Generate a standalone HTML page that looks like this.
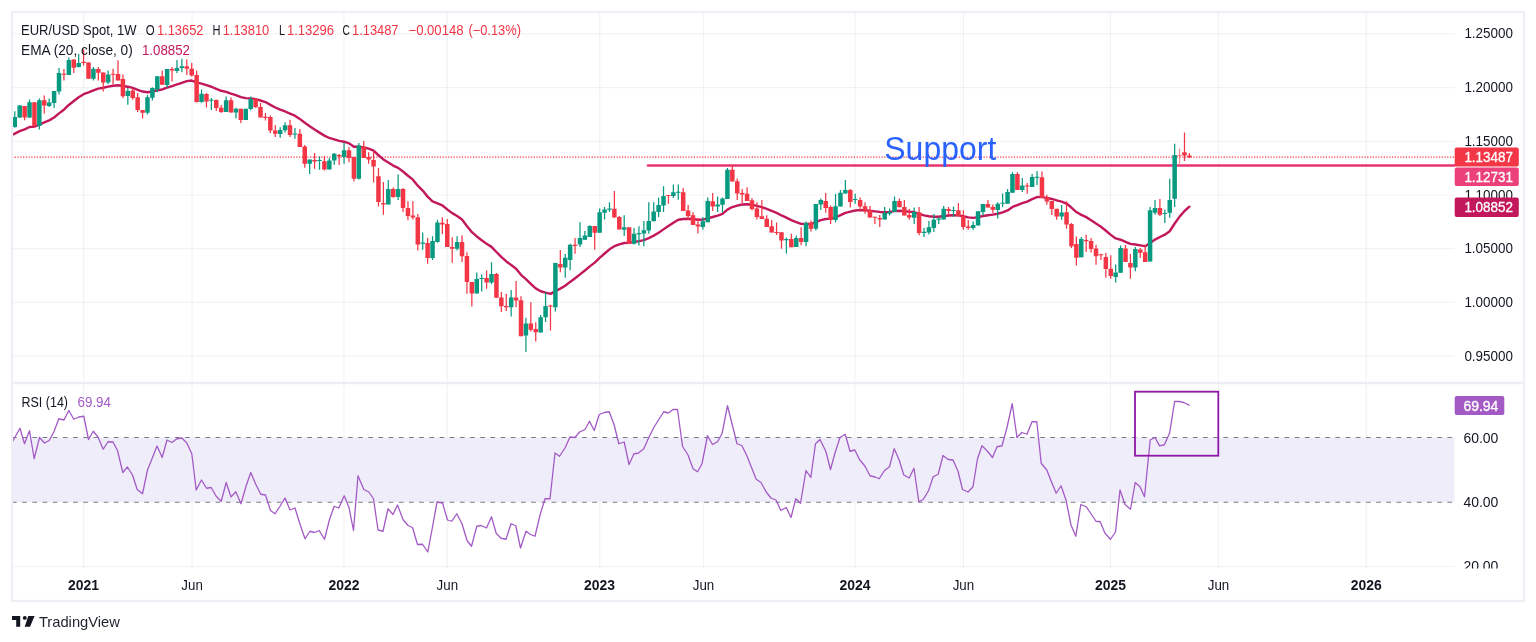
<!DOCTYPE html>
<html lang="en"><head><meta charset="utf-8"><title>EUR/USD Spot, 1W</title>
<style>html,body{margin:0;padding:0;background:#fff}body{width:1536px;height:642px;overflow:hidden}svg{display:block}</style>
</head><body>
<svg width="1536" height="642" viewBox="0 0 1536 642" font-family="'Liberation Sans', sans-serif" font-size="14" fill="#131722">
<rect width="1536" height="642" fill="#fff"/>
<defs>
<clipPath id="cm"><rect x="12.5" y="12.5" width="1442.0" height="370.2"/></clipPath>
<clipPath id="cr"><rect x="12.5" y="383.7" width="1442.0" height="182.8"/></clipPath>
<clipPath id="cax"><rect x="1454.5" y="383.7" width="69.5" height="184.8"/></clipPath>
</defs>
<g stroke="rgba(40,45,50,0.06)" stroke-width="1.2" shape-rendering="auto">
<line x1="83.6" y1="12" x2="83.6" y2="568.0"/>
<line x1="192.1" y1="12" x2="192.1" y2="568.0"/>
<line x1="344" y1="12" x2="344" y2="568.0"/>
<line x1="447.3" y1="12" x2="447.3" y2="568.0"/>
<line x1="599.6" y1="12" x2="599.6" y2="568.0"/>
<line x1="703.5" y1="12" x2="703.5" y2="568.0"/>
<line x1="855" y1="12" x2="855" y2="568.0"/>
<line x1="963.4" y1="12" x2="963.4" y2="568.0"/>
<line x1="1110.5" y1="12" x2="1110.5" y2="568.0"/>
<line x1="1218.5" y1="12" x2="1218.5" y2="568.0"/>
<line x1="1366.3" y1="12" x2="1366.3" y2="568.0"/>
<line x1="12" y1="33.90" x2="1454.5" y2="33.90"/>
<line x1="12" y1="87.60" x2="1454.5" y2="87.60"/>
<line x1="12" y1="141.30" x2="1454.5" y2="141.30"/>
<line x1="12" y1="195.00" x2="1454.5" y2="195.00"/>
<line x1="12" y1="248.70" x2="1454.5" y2="248.70"/>
<line x1="12" y1="302.40" x2="1454.5" y2="302.40"/>
<line x1="12" y1="356.10" x2="1454.5" y2="356.10"/>
<line x1="12" y1="566.5" x2="1454.5" y2="566.5"/>
</g>
<rect x="12" y="437.50" width="1442.5" height="64.75" fill="#f0edfa"/>
<g stroke="#787b86" stroke-width="1.1" stroke-dasharray="4.6 5.58">
<line x1="12.06" y1="437.50" x2="1454.5" y2="437.50"/>
<line x1="12.06" y1="502.25" x2="1454.5" y2="502.25"/>
</g>
<line x1="12" y1="157.1" x2="1454.5" y2="157.1" stroke="#f23645" stroke-width="1.3" stroke-dasharray="1.25 1.51"/>
<line x1="648" y1="165.5" x2="1454.5" y2="165.5" stroke="#e8336f" stroke-width="2.7" stroke-linecap="round"/>
<text x="884.3" y="160" font-size="33.5" fill="#2962ff" textLength="112" lengthAdjust="spacingAndGlyphs">Support</text>
<g clip-path="url(#cm)">
<path d="M9.9 136.05L14.8 133.60L19.7 131.14L24.6 129.41L29.5 127.02L34.4 126.60L39.4 124.61L44.3 122.40L49.2 120.36L54.1 117.52L59.0 113.35L63.9 109.73L68.8 104.95L73.8 101.03L78.7 97.20L83.6 94.24L88.5 92.47L93.4 90.32L98.3 88.56L103.3 87.76L108.2 86.62L113.1 85.72L118.0 85.22L122.9 85.98L127.8 86.70L132.7 87.94L137.7 89.81L142.6 91.53L147.5 92.26L152.4 91.56L157.3 90.28L162.2 89.47L167.1 87.65L172.1 86.04L177.0 84.42L181.9 82.80L186.8 81.12L191.7 80.51L196.6 82.36L201.5 83.65L206.5 85.19L211.4 86.76L216.3 88.84L221.2 90.77L226.1 91.82L231.0 93.59L235.9 95.12L240.9 97.19L245.8 98.15L250.7 98.38L255.6 99.11L260.5 100.51L265.4 102.06L270.4 104.86L275.3 107.47L280.2 109.67L285.1 111.49L290.0 113.58L294.9 115.68L299.8 118.91L304.8 122.81L309.7 126.30L314.6 129.60L319.5 132.62L324.4 135.63L329.3 137.97L334.2 139.46L339.2 140.89L344.1 141.71L349.0 143.28L353.9 146.70L358.8 146.78L363.7 147.52L368.6 148.67L373.6 150.73L378.5 155.25L383.4 159.41L388.3 162.42L393.2 165.54L398.1 167.85L403.0 171.53L408.0 175.73L412.9 179.65L417.8 185.68L422.7 190.57L427.6 196.62L432.5 201.44L437.5 203.45L442.4 205.47L447.3 209.42L452.2 213.12L457.1 215.96L462.0 219.44L466.9 225.91L471.9 232.17L476.8 236.45L481.7 240.24L486.6 243.85L491.5 246.89L496.4 251.98L501.3 256.90L506.3 261.42L511.2 264.94L516.1 268.73L521.0 274.80L525.9 279.14L530.8 283.84L535.7 288.41L540.7 291.23L545.6 292.69L550.5 293.84L555.4 291.10L560.3 288.61L565.2 285.74L570.1 281.92L575.1 278.23L580.0 274.32L584.9 270.49L589.8 266.37L594.7 262.60L599.6 257.97L604.6 253.51L609.5 249.30L614.4 246.23L619.3 244.39L624.2 243.02L629.1 242.91L634.0 242.02L639.0 241.09L643.9 240.06L648.8 238.14L653.7 235.63L658.6 232.72L663.5 229.38L668.4 226.12L673.4 222.75L678.3 219.73L683.2 218.97L688.1 218.75L693.0 219.14L697.9 219.71L702.8 219.63L707.8 218.29L712.7 216.98L717.6 215.58L722.5 213.93L727.4 209.65L732.3 207.04L737.2 205.59L742.2 204.50L747.1 204.19L752.0 204.71L756.9 205.83L761.8 207.14L766.7 208.84L771.7 210.82L776.6 212.93L781.5 215.45L786.4 217.59L791.3 220.07L796.2 222.11L801.1 223.89L806.1 223.96L811.0 223.78L815.9 222.04L820.8 220.14L825.7 219.03L830.6 218.64L835.5 217.48L840.5 215.14L845.4 212.89L850.3 211.61L855.2 210.47L860.1 210.17L865.0 210.22L869.9 210.76L874.9 211.36L879.8 211.93L884.7 212.08L889.6 211.93L894.5 211.18L899.4 210.71L904.3 211.15L909.3 211.74L914.2 212.06L919.1 213.80L924.0 215.34L928.9 216.30L933.8 216.69L938.8 216.80L943.7 215.99L948.6 215.53L953.5 215.18L958.4 215.34L963.3 216.29L968.2 217.32L973.2 217.83L978.1 217.20L983.0 216.00L987.9 215.25L992.8 214.65L997.7 213.76L1002.6 212.46L1007.6 210.44L1012.5 206.96L1017.4 205.11L1022.3 203.23L1027.2 201.59L1032.1 199.18L1037.0 197.06L1042.0 197.09L1046.9 197.82L1051.8 198.96L1056.7 200.41L1061.6 201.66L1066.5 203.51L1071.4 207.55L1076.4 212.05L1081.3 214.87L1086.2 217.13L1091.1 220.25L1096.0 223.58L1100.9 226.70L1105.9 230.72L1110.8 234.88L1115.7 238.45L1120.6 239.72L1125.5 241.80L1130.4 243.86L1135.3 244.47L1140.3 245.31L1145.2 246.15L1150.1 243.00L1155.0 239.59L1159.9 237.01L1164.8 234.70L1169.7 231.27L1174.7 223.51L1179.6 216.59L1184.5 211.01L1189.4 206.70" stroke="#c2185b" stroke-width="2.4" fill="none" stroke-linejoin="round" stroke-linecap="round"/>
<path d="M14.79 111.25V127.75M19.70 105.00V118.12M29.53 99.38V118.12M39.36 98.50V129.38M49.19 98.50V106.88M54.10 91.00V108.12M59.02 68.12V94.38M68.85 57.50V75.00M78.68 54.00V67.50M93.42 66.88V80.62M108.17 70.62V84.00M127.82 88.12V104.75M147.48 95.00V114.62M152.40 87.25V100.62M157.31 76.25V92.25M167.14 69.00V87.50M176.97 60.00V73.12M181.89 58.75V72.25M201.55 89.38V102.75M211.37 98.12V110.00M226.12 96.50V111.88M235.95 107.75V118.50M245.78 108.75V120.00M250.69 96.50V110.25M280.18 127.25V137.75M285.10 122.25V132.50M294.92 128.12V138.75M309.67 159.62V174.00M319.50 156.50V169.75M329.33 158.12V169.38M334.24 153.12V165.00M344.07 142.75V163.75M358.82 143.12V179.38M388.30 180.00V204.38M398.13 174.38V200.00M422.71 232.50V249.75M432.54 236.25V260.00M437.45 219.75V242.75M457.11 236.25V250.62M476.77 272.50V293.50M481.68 274.38V291.50M491.51 262.25V284.00M511.17 290.00V316.50M525.92 317.75V351.88M540.66 315.00V332.50M545.57 292.25V321.88M555.40 262.80V311.50M565.23 254.00V277.75M570.15 243.75V270.25M579.98 222.25V246.88M584.89 231.00V239.75M589.81 225.25V236.88M599.64 208.50V232.75M604.55 206.88V219.38M609.47 202.25V211.88M624.21 215.25V236.00M634.04 228.12V244.38M638.95 226.25V245.62M643.87 221.00V246.25M648.78 202.25V233.75M653.70 202.25V221.25M658.61 197.50V216.88M663.53 186.25V211.88M673.36 184.38V198.12M678.27 184.38V199.75M702.84 216.88V229.38M707.76 197.50V222.25M717.59 196.50V211.88M722.50 197.50V212.50M727.42 168.12V199.00M786.39 237.50V253.50M796.22 235.62V246.88M806.05 221.50V246.25M815.88 204.00V230.62M820.80 198.50V210.00M835.54 193.75V222.25M840.46 190.00V206.50M845.37 180.00V193.50M855.20 193.75V203.75M884.69 206.88V219.38M889.60 208.50V215.62M894.52 196.50V211.88M914.18 207.50V224.00M924.01 228.12V236.88M928.92 221.00V234.38M933.84 214.00V231.88M938.75 216.88V224.00M943.67 206.00V219.38M953.49 206.50V216.88M973.15 221.50V229.75M978.07 211.25V225.62M982.98 204.00V215.62M997.73 202.25V218.50M1002.64 193.50V206.88M1007.56 189.00V203.75M1012.47 172.25V192.75M1022.30 178.12V191.88M1032.13 174.00V186.88M1037.04 171.25V185.00M1061.62 205.00V219.75M1081.28 236.88V257.25M1115.68 264.38V282.50M1120.59 245.62V272.75M1135.34 246.88V271.25M1150.08 206.90V261.50M1155.00 200.00V214.75M1164.83 209.38V223.12M1169.74 178.75V217.75M1174.66 143.75V206.90" stroke="#089981" stroke-width="1.25" fill="none"/>
<path d="M24.62 106.00V120.25M34.45 102.25V126.00M44.27 95.62V113.50M63.93 69.00V80.62M73.76 59.38V73.12M83.59 49.38V65.62M88.51 62.25V78.75M98.34 66.88V80.62M103.25 72.50V91.50M113.08 68.75V84.38M118.00 60.25V80.62M122.91 74.38V98.12M132.74 88.75V99.75M137.65 93.12V111.88M142.57 110.00V118.50M162.23 70.62V84.75M172.06 66.88V81.50M186.80 59.38V75.00M191.72 63.12V76.50M196.63 70.62V102.50M206.46 93.12V107.50M216.29 99.38V111.00M221.20 105.00V112.88M231.03 97.50V112.50M240.86 108.75V123.12M255.61 98.50V107.75M260.52 103.12V117.50M265.44 113.12V120.62M270.35 115.62V133.12M275.27 125.00V136.88M290.01 119.75V136.88M299.84 129.00V146.88M304.75 145.00V167.75M314.58 153.12V168.75M324.41 156.00V170.62M339.16 154.00V165.00M348.99 147.25V162.25M353.90 156.88V181.50M363.73 141.00V158.12M368.65 152.25V163.75M373.56 151.25V182.50M378.47 168.12V206.50M383.39 181.88V214.75M393.22 187.50V197.75M403.05 188.12V211.88M407.96 201.25V220.25M412.88 201.25V219.38M417.79 214.00V250.62M427.62 238.12V263.75M442.37 217.25V234.00M447.28 219.00V246.88M452.20 237.25V262.75M462.02 235.25V261.88M466.94 252.25V293.75M471.85 281.88V306.50M486.60 270.62V288.75M496.43 273.12V297.75M501.34 291.88V311.88M506.26 293.75V311.00M516.09 281.00V307.25M521.00 296.25V336.25M530.83 302.25V331.50M535.74 322.25V341.50M550.49 304.75V330.62M560.32 250.00V272.25M575.06 238.12V253.75M594.72 226.00V249.75M614.38 191.00V217.50M619.29 216.00V229.38M629.12 227.25V243.50M668.44 194.94V203.75M683.19 188.12V211.00M688.10 205.00V220.00M693.02 212.25V225.00M697.93 218.12V233.50M712.67 193.12V211.00M732.33 165.00V181.50M737.25 178.50V200.00M742.16 189.00V203.12M747.08 187.25V201.00M751.99 198.12V210.62M756.91 202.25V219.38M761.82 200.00V219.00M766.74 215.25V226.88M771.65 220.00V232.50M776.57 222.50V235.00M781.48 232.25V248.75M791.31 233.75V247.25M801.14 227.25V245.25M810.97 220.62V231.50M825.71 193.12V212.75M830.63 205.62V224.00M850.29 189.00V207.50M860.12 197.50V210.62M865.03 202.25V213.75M869.94 206.00V217.50M874.86 216.75V224.00M879.77 215.00V226.88M899.43 198.50V207.25M904.35 200.00V215.62M909.26 208.75V219.75M919.09 206.88V235.25M948.58 206.88V215.00M958.41 203.12V216.25M963.32 210.25V229.75M968.24 220.00V229.75M987.90 200.00V207.50M992.81 204.38V213.12M1017.39 172.25V190.00M1027.21 183.12V193.75M1041.96 171.50V198.12M1046.87 194.75V204.75M1051.79 201.00V215.00M1056.70 208.75V219.75M1066.53 201.25V228.75M1071.45 223.12V248.12M1076.36 236.50V265.62M1086.19 234.75V251.88M1091.11 238.12V252.50M1096.02 244.75V264.75M1100.94 253.75V260.00M1105.85 253.12V277.75M1110.76 255.25V278.75M1125.51 245.00V261.88M1130.42 254.00V278.75M1140.25 248.12V258.12M1145.17 245.25V261.88M1159.91 199.00V216.00M1184.49 132.50V161.00M1189.40 153.10V158.10" stroke="#f23645" stroke-width="1.25" fill="none"/>
<path d="M1179.57 148.50V164.00" stroke="#f23645" stroke-opacity="0.55" stroke-width="1.25" fill="none"/>
<path d="M12.54 117.12h4.5V126.88h-4.5zM17.45 105.62h4.5V117.50h-4.5zM27.28 102.25h4.5V117.50h-4.5zM37.11 100.25h4.5V126.00h-4.5zM46.94 102.50h4.5V105.88h-4.5zM51.85 91.00h4.5V102.88h-4.5zM56.77 73.12h4.5V91.62h-4.5zM66.60 60.00h4.5V75.00h-4.5zM76.43 63.12h4.5V66.88h-4.5zM91.17 68.75h4.5V78.75h-4.5zM105.92 74.38h4.5V82.50h-4.5zM125.57 91.00h4.5V95.88h-4.5zM145.23 97.25h4.5V112.75h-4.5zM150.15 88.12h4.5V97.75h-4.5zM155.06 76.25h4.5V89.38h-4.5zM164.89 69.00h4.5V85.00h-4.5zM174.72 68.12h4.5V70.88h-4.5zM179.64 66.25h4.5V68.12h-4.5zM199.30 93.75h4.5V101.88h-4.5zM209.12 99.63h4.5V100.75h-4.5zM223.87 100.25h4.5V111.88h-4.5zM233.70 108.75h4.5V112.50h-4.5zM243.53 108.75h4.5V120.00h-4.5zM248.44 99.00h4.5V109.00h-4.5zM277.93 130.00h4.5V134.00h-4.5zM282.85 125.25h4.5V130.25h-4.5zM292.67 133.50h4.5V134.62h-4.5zM307.42 159.62h4.5V163.75h-4.5zM317.25 159.88h4.5V161.00h-4.5zM327.08 160.62h4.5V169.38h-4.5zM331.99 153.75h4.5V160.62h-4.5zM341.82 150.25h4.5V156.88h-4.5zM356.57 145.62h4.5V178.75h-4.5zM386.05 189.00h4.5V204.38h-4.5zM395.88 189.00h4.5V196.88h-4.5zM420.46 242.50h4.5V243.75h-4.5zM430.29 241.00h4.5V258.12h-4.5zM435.20 222.50h4.5V241.88h-4.5zM454.86 241.88h4.5V248.75h-4.5zM474.52 279.00h4.5V293.50h-4.5zM479.43 277.88h4.5V279.00h-4.5zM489.26 274.00h4.5V282.50h-4.5zM508.92 297.50h4.5V307.25h-4.5zM523.67 323.50h4.5V335.62h-4.5zM538.41 317.25h4.5V332.50h-4.5zM543.32 306.00h4.5V317.25h-4.5zM553.15 263.10h4.5V307.25h-4.5zM562.98 257.75h4.5V267.50h-4.5zM567.90 244.75h4.5V260.00h-4.5zM577.73 238.12h4.5V244.38h-4.5zM582.64 235.62h4.5V239.75h-4.5zM587.56 226.00h4.5V236.88h-4.5zM597.39 212.25h4.5V232.75h-4.5zM602.30 209.38h4.5V212.75h-4.5zM607.22 208.50h4.5V209.75h-4.5zM621.96 227.25h4.5V229.75h-4.5zM631.79 233.75h4.5V243.75h-4.5zM636.70 233.06h4.5V234.19h-4.5zM641.62 230.25h4.5V233.50h-4.5zM646.53 221.00h4.5V230.62h-4.5zM651.45 211.50h4.5V221.25h-4.5zM656.36 205.00h4.5V211.88h-4.5zM661.28 196.00h4.5V205.62h-4.5zM671.11 192.25h4.5V196.00h-4.5zM676.02 191.75h4.5V192.87h-4.5zM700.59 221.25h4.5V226.88h-4.5zM705.51 201.00h4.5V222.25h-4.5zM715.34 204.38h4.5V206.50h-4.5zM720.25 198.50h4.5V204.75h-4.5zM725.17 169.75h4.5V199.00h-4.5zM784.14 239.00h4.5V240.25h-4.5zM793.97 238.12h4.5V246.88h-4.5zM803.80 223.12h4.5V241.88h-4.5zM813.63 204.00h4.5V228.75h-4.5zM818.55 200.00h4.5V204.38h-4.5zM833.29 206.25h4.5V220.00h-4.5zM838.21 192.75h4.5V206.50h-4.5zM843.12 190.00h4.5V193.50h-4.5zM852.95 198.94h4.5V200.06h-4.5zM882.44 213.12h4.5V219.38h-4.5zM887.35 211.88h4.5V213.75h-4.5zM892.27 201.00h4.5V211.88h-4.5zM911.93 211.88h4.5V217.75h-4.5zM921.76 231.81h4.5V232.94h-4.5zM926.67 227.25h4.5V232.50h-4.5zM931.59 219.75h4.5V228.12h-4.5zM936.50 218.50h4.5V219.75h-4.5zM941.42 208.75h4.5V219.38h-4.5zM951.24 209.94h4.5V211.06h-4.5zM970.90 225.00h4.5V228.12h-4.5zM975.82 211.25h4.5V225.62h-4.5zM980.73 204.00h4.5V211.88h-4.5zM995.48 203.75h4.5V210.00h-4.5zM1000.39 202.69h4.5V203.81h-4.5zM1005.31 191.88h4.5V203.75h-4.5zM1010.22 174.00h4.5V192.75h-4.5zM1020.05 185.62h4.5V190.00h-4.5zM1029.88 176.88h4.5V186.88h-4.5zM1034.79 176.75h4.5V177.87h-4.5zM1059.37 212.50h4.5V216.50h-4.5zM1079.03 239.00h4.5V257.25h-4.5zM1113.43 272.50h4.5V276.88h-4.5zM1118.34 248.12h4.5V272.75h-4.5zM1133.09 249.00h4.5V267.50h-4.5zM1147.83 210.25h4.5V261.50h-4.5zM1152.75 208.12h4.5V212.75h-4.5zM1162.58 213.00h4.5V214.12h-4.5zM1167.49 200.00h4.5V212.75h-4.5zM1172.41 155.00h4.5V198.75h-4.5z" fill="#089981"/>
<path d="M22.37 106.00h4.5V117.50h-4.5zM32.20 102.25h4.5V126.00h-4.5zM42.02 100.25h4.5V105.38h-4.5zM61.68 73.69h4.5V74.81h-4.5zM71.51 59.38h4.5V67.75h-4.5zM81.34 61.81h4.5V62.94h-4.5zM86.26 62.50h4.5V78.75h-4.5zM96.09 69.00h4.5V72.75h-4.5zM101.00 72.50h4.5V82.50h-4.5zM110.83 73.69h4.5V74.81h-4.5zM115.75 74.00h4.5V80.62h-4.5zM120.66 79.00h4.5V96.25h-4.5zM130.49 90.62h4.5V98.12h-4.5zM135.40 97.25h4.5V110.00h-4.5zM140.32 110.00h4.5V112.75h-4.5zM159.98 76.25h4.5V84.75h-4.5zM169.81 69.00h4.5V70.62h-4.5zM184.55 66.25h4.5V68.75h-4.5zM189.47 68.75h4.5V75.62h-4.5zM194.38 75.00h4.5V101.88h-4.5zM204.21 94.00h4.5V101.50h-4.5zM214.04 100.00h4.5V108.12h-4.5zM218.95 107.75h4.5V111.88h-4.5zM228.78 100.25h4.5V112.50h-4.5zM238.61 108.75h4.5V120.00h-4.5zM253.36 99.00h4.5V107.25h-4.5zM258.27 106.88h4.5V117.50h-4.5zM263.19 116.81h4.5V117.94h-4.5zM268.10 117.12h4.5V130.62h-4.5zM273.02 130.62h4.5V133.75h-4.5zM287.76 125.25h4.5V135.00h-4.5zM297.59 133.75h4.5V146.88h-4.5zM302.50 146.50h4.5V163.75h-4.5zM312.33 160.00h4.5V161.50h-4.5zM322.16 161.25h4.5V169.38h-4.5zM336.91 155.00h4.5V156.25h-4.5zM346.74 150.25h4.5V158.12h-4.5zM351.65 156.88h4.5V178.75h-4.5zM361.48 146.50h4.5V158.12h-4.5zM366.40 156.88h4.5V159.38h-4.5zM371.31 160.00h4.5V166.50h-4.5zM376.22 176.25h4.5V201.88h-4.5zM381.14 203.12h4.5V204.38h-4.5zM390.97 189.00h4.5V196.88h-4.5zM400.80 189.00h4.5V208.12h-4.5zM405.71 208.12h4.5V216.00h-4.5zM410.63 215.62h4.5V217.50h-4.5zM415.54 217.25h4.5V244.38h-4.5zM425.37 243.12h4.5V258.12h-4.5zM440.12 222.75h4.5V224.62h-4.5zM445.03 224.00h4.5V246.88h-4.5zM449.95 246.88h4.5V248.75h-4.5zM459.77 241.88h4.5V256.25h-4.5zM464.69 256.00h4.5V281.88h-4.5zM469.60 281.88h4.5V293.50h-4.5zM484.35 278.12h4.5V282.50h-4.5zM494.18 274.00h4.5V297.75h-4.5zM499.09 297.50h4.5V306.25h-4.5zM504.01 306.00h4.5V307.25h-4.5zM513.84 297.50h4.5V300.62h-4.5zM518.75 300.25h4.5V336.25h-4.5zM528.58 323.50h4.5V329.75h-4.5zM533.49 329.00h4.5V332.25h-4.5zM548.24 305.50h4.5V306.62h-4.5zM558.07 264.00h4.5V267.50h-4.5zM572.81 244.75h4.5V246.00h-4.5zM592.47 226.00h4.5V232.75h-4.5zM612.13 208.75h4.5V217.50h-4.5zM617.04 216.88h4.5V229.38h-4.5zM626.87 227.25h4.5V243.50h-4.5zM666.19 194.94h4.5V196.06h-4.5zM680.94 192.25h4.5V211.00h-4.5zM685.85 210.62h4.5V216.00h-4.5zM690.77 215.25h4.5V225.00h-4.5zM695.68 224.38h4.5V226.50h-4.5zM710.42 201.25h4.5V206.50h-4.5zM730.08 169.75h4.5V181.50h-4.5zM735.00 181.25h4.5V193.50h-4.5zM739.91 193.12h4.5V194.38h-4.5zM744.83 193.75h4.5V201.00h-4.5zM749.74 200.25h4.5V209.00h-4.5zM754.66 208.50h4.5V216.88h-4.5zM759.57 216.25h4.5V219.00h-4.5zM764.49 218.75h4.5V226.88h-4.5zM769.40 226.25h4.5V232.50h-4.5zM774.32 231.88h4.5V233.12h-4.5zM779.23 232.25h4.5V240.62h-4.5zM789.06 239.00h4.5V247.25h-4.5zM798.89 238.12h4.5V241.88h-4.5zM808.72 223.12h4.5V228.75h-4.5zM823.46 201.00h4.5V208.12h-4.5zM828.38 206.88h4.5V220.00h-4.5zM848.04 190.00h4.5V201.88h-4.5zM857.87 200.00h4.5V206.50h-4.5zM862.78 206.25h4.5V210.25h-4.5zM867.69 210.00h4.5V217.50h-4.5zM872.61 216.75h4.5V217.87h-4.5zM877.52 218.12h4.5V219.38h-4.5zM897.18 201.00h4.5V207.25h-4.5zM902.10 206.88h4.5V215.62h-4.5zM907.01 215.00h4.5V217.50h-4.5zM916.84 212.25h4.5V233.12h-4.5zM946.33 209.00h4.5V211.00h-4.5zM956.16 210.25h4.5V216.25h-4.5zM961.07 216.00h4.5V226.88h-4.5zM965.99 226.50h4.5V228.12h-4.5zM985.65 204.00h4.5V207.50h-4.5zM990.56 206.88h4.5V209.75h-4.5zM1015.14 174.00h4.5V190.00h-4.5zM1024.96 185.50h4.5V186.62h-4.5zM1039.71 177.25h4.5V198.12h-4.5zM1044.62 197.25h4.5V201.50h-4.5zM1049.54 201.00h4.5V209.00h-4.5zM1054.45 208.75h4.5V216.50h-4.5zM1064.28 212.25h4.5V224.38h-4.5zM1069.20 224.00h4.5V246.25h-4.5zM1074.11 244.00h4.5V257.75h-4.5zM1083.94 240.00h4.5V241.25h-4.5zM1088.86 241.00h4.5V249.00h-4.5zM1093.77 248.50h4.5V256.25h-4.5zM1098.69 254.25h4.5V255.37h-4.5zM1103.60 256.88h4.5V269.00h-4.5zM1108.51 268.75h4.5V276.00h-4.5zM1123.26 248.50h4.5V261.88h-4.5zM1128.17 263.12h4.5V267.50h-4.5zM1138.00 249.38h4.5V252.75h-4.5zM1142.92 252.25h4.5V261.88h-4.5zM1157.66 208.12h4.5V214.75h-4.5zM1182.24 152.25h4.5V155.60h-4.5zM1187.15 155.40h4.5V157.25h-4.5z" fill="#f23645"/>
<path d="M1177.32 154.94h4.5V156.06h-4.5z" fill="#f23645" fill-opacity="0.55"/>
</g>
<g clip-path="url(#cr)">
<path d="M12.0 442.50L20.0 428.25L24.5 443.75L29.5 430.75L34.2 458.75L39.5 437.50L44.5 443.00L49.2 440.50L53.8 432.00L58.8 418.75L64.0 420.00L68.8 410.50L73.8 419.25L78.8 417.00L83.8 416.25L88.5 439.50L93.2 431.25L98.0 437.00L103.2 449.25L108.0 441.75L113.0 442.00L117.5 450.50L122.8 472.50L127.5 467.00L132.5 475.00L137.2 489.50L142.5 493.75L147.5 470.00L152.0 458.75L157.0 446.00L162.2 457.50L167.0 440.00L172.0 442.50L176.8 438.75L181.8 438.00L186.8 443.00L191.8 453.75L196.2 490.00L201.5 480.00L206.5 488.25L211.2 487.50L216.2 496.25L221.2 501.25L226.2 482.50L231.0 497.00L235.8 491.75L241.0 503.75L246.0 486.25L250.8 472.50L255.5 483.75L260.8 494.25L265.5 495.00L270.5 510.50L275.0 513.75L280.0 506.25L285.0 498.00L290.0 510.00L295.0 508.00L300.0 524.25L305.0 538.75L310.0 531.25L314.5 532.50L319.2 530.50L324.5 539.25L329.5 519.50L334.2 506.25L338.8 508.00L344.2 495.75L349.0 507.50L353.5 530.50L358.0 475.75L363.8 489.50L368.8 492.00L373.5 498.75L378.0 530.00L383.0 531.25L388.0 508.75L393.0 514.50L397.5 505.00L403.0 519.50L408.0 525.50L412.5 527.50L417.5 544.50L422.5 544.25L427.8 552.00L432.5 527.00L437.0 502.00L442.5 503.00L447.5 520.00L451.8 521.25L456.8 513.75L462.0 523.75L467.0 540.50L471.5 546.25L476.8 526.25L481.2 525.50L486.5 528.00L491.5 516.75L496.2 533.25L501.0 538.25L506.0 539.25L511.0 523.75L515.8 525.75L520.5 548.00L526.0 531.25L530.5 534.50L535.0 536.25L540.0 515.00L545.0 498.75L550.0 498.75L555.0 453.00L559.5 456.25L565.0 448.00L570.0 437.00L575.0 437.50L579.5 432.00L585.0 429.50L589.5 421.25L594.2 430.50L599.2 414.50L604.2 412.50L609.2 411.75L614.2 425.00L618.8 443.75L624.2 442.00L629.0 464.50L634.0 453.75L638.2 453.25L643.8 448.75L648.8 437.50L653.8 427.50L658.8 419.50L663.8 411.75L668.2 413.00L673.2 409.50L677.5 409.50L682.5 446.25L688.0 455.00L693.0 468.75L697.5 471.75L702.0 463.75L707.5 435.75L712.5 444.50L717.5 441.75L722.0 433.75L727.5 405.75L732.0 423.75L737.0 443.75L741.8 445.50L746.8 455.50L751.8 468.25L756.2 479.25L761.0 482.50L766.2 492.00L771.2 498.25L776.0 500.00L780.8 510.50L786.2 507.50L791.0 517.50L795.8 498.75L800.5 503.25L806.0 470.50L810.8 477.50L815.5 443.75L820.0 439.50L825.8 451.25L830.5 469.50L835.0 453.00L840.0 437.50L845.2 434.25L850.0 451.25L854.8 450.00L859.5 459.50L865.0 466.25L870.0 475.75L875.0 477.00L879.2 478.75L884.5 470.50L889.5 466.75L894.2 448.75L899.2 460.00L903.8 475.00L909.2 478.00L914.0 468.25L918.8 501.75L923.2 499.50L928.5 490.75L933.2 476.75L938.2 474.25L943.0 455.50L948.2 459.50L953.0 460.00L958.0 471.25L962.5 489.50L968.0 492.00L973.0 486.75L977.5 458.75L982.0 445.75L987.5 451.25L992.5 457.50L997.0 446.75L1002.0 445.75L1007.0 427.50L1012.2 403.75L1017.0 437.50L1021.8 432.50L1027.0 434.25L1032.0 421.75L1036.8 421.75L1041.2 463.25L1046.8 470.00L1051.2 481.25L1056.2 493.25L1061.0 485.75L1066.0 500.00L1071.0 525.00L1075.8 536.25L1080.8 504.50L1086.2 506.75L1091.0 513.75L1096.0 521.25L1100.2 521.75L1105.0 533.25L1110.5 539.25L1115.5 532.00L1120.0 490.00L1125.0 504.50L1130.5 509.25L1135.2 482.50L1140.0 486.75L1144.5 496.75L1150.2 440.00L1155.0 437.50L1159.6 445.90L1164.4 444.75L1169.6 433.10L1174.6 401.50L1179.4 401.50L1183.8 402.50L1189.6 405.40" stroke="#a35ac5" stroke-width="1.3" fill="none" stroke-linejoin="round"/>
</g>
<rect x="1135" y="391.7" width="83.3" height="64" fill="none" stroke="#9016a8" stroke-width="1.8"/>
<line x1="12" y1="383" x2="1524" y2="383" stroke="#eceef3" stroke-width="2.3"/>
<rect x="12" y="12" width="1512.1" height="588.9" fill="none" stroke="#edeff4" stroke-width="2.1"/>
<text x="1464.4" y="38.10" textLength="48.6" lengthAdjust="spacingAndGlyphs">1.25000</text>
<text x="1464.4" y="91.60" textLength="48.6" lengthAdjust="spacingAndGlyphs">1.20000</text>
<text x="1464.4" y="145.90" textLength="48.6" lengthAdjust="spacingAndGlyphs">1.15000</text>
<text x="1464.4" y="199.80" textLength="48.6" lengthAdjust="spacingAndGlyphs">1.10000</text>
<text x="1464.4" y="253.20" textLength="48.6" lengthAdjust="spacingAndGlyphs">1.05000</text>
<text x="1464.4" y="307.00" textLength="48.6" lengthAdjust="spacingAndGlyphs">1.00000</text>
<text x="1464.4" y="361.40" textLength="48.6" lengthAdjust="spacingAndGlyphs">0.95000</text>
<rect x="1454.7" y="147.50" width="64.1" height="19" rx="2" fill="#f23645"/>
<text x="1464.4" y="161.90" fill="#fff" stroke="#fff" stroke-width="0.3" textLength="48.6" lengthAdjust="spacingAndGlyphs">1.13487</text>
<rect x="1454.7" y="167.50" width="64.1" height="18.5" rx="2" fill="#ec407a"/>
<text x="1464.4" y="181.65" fill="#fff" stroke="#fff" stroke-width="0.3" textLength="48.6" lengthAdjust="spacingAndGlyphs">1.12731</text>
<rect x="1454.7" y="197.50" width="64.1" height="19.4" rx="2" fill="#c2185b"/>
<text x="1464.4" y="212.10" fill="#fff" stroke="#fff" stroke-width="0.3" textLength="48.6" lengthAdjust="spacingAndGlyphs">1.08852</text>
<g clip-path="url(#cax)">
<text x="1463.4" y="443.00" textLength="35" lengthAdjust="spacingAndGlyphs">60.00</text>
<text x="1463.4" y="507.00" textLength="35" lengthAdjust="spacingAndGlyphs">40.00</text>
<text x="1463.4" y="570.70" textLength="35" lengthAdjust="spacingAndGlyphs">20.00</text>
</g>
<rect x="1454.7" y="396" width="49.6" height="19" rx="2" fill="#a35ac5"/>
<text x="1463.4" y="410.5" fill="#fff" stroke="#fff" stroke-width="0.3" textLength="35" lengthAdjust="spacingAndGlyphs">69.94</text>
<text x="83.6" y="590.2" text-anchor="middle" font-weight="bold" textLength="31" lengthAdjust="spacingAndGlyphs">2021</text>
<text x="192.1" y="590.2" text-anchor="middle" textLength="21.5" lengthAdjust="spacingAndGlyphs">Jun</text>
<text x="344" y="590.2" text-anchor="middle" font-weight="bold" textLength="31" lengthAdjust="spacingAndGlyphs">2022</text>
<text x="447.3" y="590.2" text-anchor="middle" textLength="21.5" lengthAdjust="spacingAndGlyphs">Jun</text>
<text x="599.6" y="590.2" text-anchor="middle" font-weight="bold" textLength="31" lengthAdjust="spacingAndGlyphs">2023</text>
<text x="703.5" y="590.2" text-anchor="middle" textLength="21.5" lengthAdjust="spacingAndGlyphs">Jun</text>
<text x="855" y="590.2" text-anchor="middle" font-weight="bold" textLength="31" lengthAdjust="spacingAndGlyphs">2024</text>
<text x="963.4" y="590.2" text-anchor="middle" textLength="21.5" lengthAdjust="spacingAndGlyphs">Jun</text>
<text x="1110.5" y="590.2" text-anchor="middle" font-weight="bold" textLength="31" lengthAdjust="spacingAndGlyphs">2025</text>
<text x="1218.5" y="590.2" text-anchor="middle" textLength="21.5" lengthAdjust="spacingAndGlyphs">Jun</text>
<text x="1366.3" y="590.2" text-anchor="middle" font-weight="bold" textLength="31" lengthAdjust="spacingAndGlyphs">2026</text>
<text x="21.0" y="34.8" textLength="115.5" lengthAdjust="spacingAndGlyphs">EUR/USD Spot, 1W</text>
<text x="145.8" y="34.8" textLength="8.9" lengthAdjust="spacingAndGlyphs">O</text>
<text x="156.9" y="34.8" fill="#f23645" textLength="46.6" lengthAdjust="spacingAndGlyphs">1.13652</text>
<text x="212.6" y="34.8" textLength="8.0" lengthAdjust="spacingAndGlyphs">H</text>
<text x="222.7" y="34.8" fill="#f23645" textLength="46.6" lengthAdjust="spacingAndGlyphs">1.13810</text>
<text x="278.9" y="34.8" textLength="6.0" lengthAdjust="spacingAndGlyphs">L</text>
<text x="286.9" y="34.8" fill="#f23645" textLength="47.2" lengthAdjust="spacingAndGlyphs">1.13296</text>
<text x="342.6" y="34.8" textLength="7.4" lengthAdjust="spacingAndGlyphs">C</text>
<text x="352.0" y="34.8" fill="#f23645" textLength="46.5" lengthAdjust="spacingAndGlyphs">1.13487</text>
<text x="408.5" y="34.8" fill="#f23645" textLength="55" lengthAdjust="spacingAndGlyphs">−0.00148</text>
<text x="468.4" y="34.8" fill="#f23645" textLength="52.6" lengthAdjust="spacingAndGlyphs">(−0.13%)</text>
<text x="21.0" y="54.8" textLength="111.8" lengthAdjust="spacingAndGlyphs">EMA (20, close, 0)</text>
<text x="141.9" y="54.8" fill="#c2185b" textLength="48.1" lengthAdjust="spacingAndGlyphs">1.08852</text>
<text x="21.5" y="406.6" textLength="46.5" lengthAdjust="spacingAndGlyphs">RSI (14)</text>
<text x="77.5" y="406.6" fill="#a35ac5" textLength="33.5" lengthAdjust="spacingAndGlyphs">69.94</text>
<g fill="#131722">
<path d="M12 615.9h8.2v10.8h-4v-6.8H12z"/>
<circle cx="24.8" cy="617.9" r="1.95"/>
<path d="M28.3 615.9h6.3l-4.6 10.8h-5.3z"/>
</g>
<text x="38.9" y="626.7" font-size="14.5" fill="#1e222d" textLength="81" lengthAdjust="spacingAndGlyphs">TradingView</text>
</svg>
</body></html>
